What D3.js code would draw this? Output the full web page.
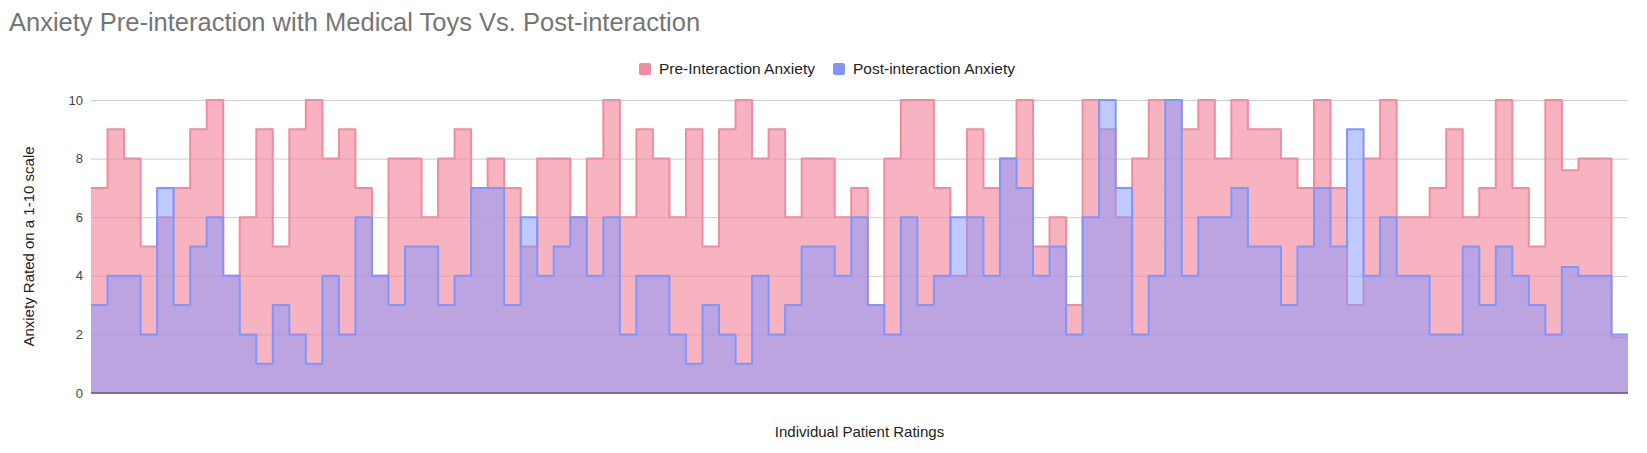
<!DOCTYPE html>
<html>
<head>
<meta charset="utf-8">
<script src="https://cdn.jsdelivr.net/npm/d3@7"></script>
<style>
    body { margin: 0; background: #fff; }
    text { font-family: Arial, "Liberation Sans", sans-serif; }
</style>
</head>
<body>
<div id="chart"></div>
<script>
// data, one value per patient
var pre_values = [7, 9, 8, 5, 6, 7, 9, 10, 4, 6, 9, 5, 9, 10, 8, 9, 7, 4, 8, 8,
    6, 8, 9, 7, 8, 7, 5, 8, 8, 6, 8, 10, 6, 9, 8, 6, 9, 5, 9, 10,
    8, 9, 6, 8, 8, 6, 7, 3, 8, 10, 10, 7, 4, 9, 7, 8, 10, 5, 6, 3,
    10, 9, 6, 8, 10, 10, 9, 10, 8, 10, 9, 9, 8, 7, 10, 7, 3, 8, 10, 6,
    6, 7, 9, 6, 7, 10, 7, 5, 10, 7.6, 8, 8, 1.9];
var post_values = [3, 4, 4, 2, 7, 3, 5, 6, 4, 2, 1, 3, 2, 1, 4, 2, 6, 4, 3, 5,
    5, 3, 4, 7, 7, 3, 6, 4, 5, 6, 4, 6, 2, 4, 4, 2, 1, 3, 2, 1,
    4, 2, 3, 5, 5, 4, 6, 3, 2, 6, 3, 4, 6, 6, 4, 8, 7, 4, 5, 2,
    6, 10, 7, 2, 4, 10, 4, 6, 6, 7, 5, 5, 3, 5, 7, 5, 9, 4, 6, 4,
    4, 2, 2, 5, 3, 5, 4, 3, 2, 4.3, 4, 4, 2];
var series_names = ["Pre-Interaction Anxiety", "Post-interaction Anxiety"];
var y_ticks = [0, 2, 4, 6, 8, 10];

var svgWidth = 1647;
var svgHeight = 453;
var margin = { top: 100, right: 19, bottom: 60, left: 91 };
var chart_width = svgWidth - margin.left - margin.right;
var chart_height = svgHeight - margin.top - margin.bottom;

var pink_line = "#f28b9e";
var blue_line = "#7f95ff";

var svg = d3.select("#chart")
    .append("svg")
    .attr("width", svgWidth)
    .attr("height", svgHeight);

var chartGroup = svg.append("g")
    .attr("transform", `translate(${margin.left}, ${margin.top})`);

// scales
var n = pre_values.length;
var xScale = d3.scaleLinear()
    .domain([0, n])
    .range([0, chart_width]);

var yScale = d3.scaleLinear()
    .domain([0, 10])
    .range([chart_height, 0]);

// gridlines + tick labels
var leftAxis = d3.axisLeft(yScale)
    .tickValues(y_ticks)
    .tickSize(-chart_width)
    .tickPadding(8);

var yAxis = chartGroup.append("g")
    .call(leftAxis);
yAxis.select(".domain").remove();
yAxis.selectAll(".tick line")
    .attr("stroke", "#cccccc")
    .attr("stroke-width", 1);
yAxis.selectAll(".tick text")
    .attr("fill", "#444")
    .attr("font-size", 13)
    .attr("font-family", "Arial, 'Liberation Sans', sans-serif");

// step series (repeat last value so the last step gets its width)
function stepData(values) {
    return values.concat([values[values.length - 1]]);
}

var area = d3.area()
    .x((d, i) => xScale(i))
    .y0(yScale(0))
    .y1(d => yScale(d))
    .curve(d3.curveStepAfter);

var line = d3.line()
    .x((d, i) => xScale(i))
    .y(d => yScale(d))
    .curve(d3.curveStepAfter);

chartGroup.append("path")
    .datum(stepData(pre_values))
    .attr("d", area)
    .attr("fill", pink_line)
    .attr("fill-opacity", 0.65);

chartGroup.append("path")
    .datum(stepData(pre_values))
    .attr("d", line)
    .attr("fill", "none")
    .attr("stroke", pink_line)
    .attr("stroke-width", 2)
    .attr("stroke-linejoin", "round");

chartGroup.append("path")
    .datum(stepData(post_values))
    .attr("d", area)
    .attr("fill", blue_line)
    .attr("fill-opacity", 0.5);

chartGroup.append("path")
    .datum(stepData(post_values))
    .attr("d", line)
    .attr("fill", "none")
    .attr("stroke", blue_line)
    .attr("stroke-width", 2)
    .attr("stroke-linejoin", "round");

// baseline
chartGroup.append("line")
    .attr("x1", 0)
    .attr("x2", chart_width)
    .attr("y1", yScale(0))
    .attr("y2", yScale(0))
    .attr("stroke", "#333")
    .attr("stroke-width", 1);

// title
svg.append("text")
    .attr("x", 9)
    .attr("y", 31)
    .attr("font-size", 25.5)
    .attr("fill", "#757575")
    .text("Anxiety Pre-interaction with Medical Toys Vs. Post-interaction");

// legend
var legend = svg.append("g")
    .attr("transform", "translate(639, 63)");
var legendX = [0, 194];
var legendColors = [pink_line, blue_line];
series_names.forEach(function(name, i) {
    legend.append("rect")
        .attr("x", legendX[i])
        .attr("y", 0)
        .attr("width", 12)
        .attr("height", 12)
        .attr("rx", 2)
        .attr("fill", legendColors[i]);
    legend.append("text")
        .attr("x", legendX[i] + 20)
        .attr("y", 11)
        .attr("font-size", 15.5)
        .attr("fill", "#222")
        .text(name);
});

// axis titles
chartGroup.append("text")
    .attr("transform", "rotate(-90)")
    .attr("x", -chart_height / 2)
    .attr("y", -57)
    .attr("text-anchor", "middle")
    .attr("font-size", 15)
    .attr("fill", "#222")
    .text("Anxiety Rated on a 1-10 scale");

chartGroup.append("text")
    .attr("x", chart_width / 2)
    .attr("y", chart_height + 44)
    .attr("text-anchor", "middle")
    .attr("font-size", 15)
    .attr("fill", "#222")
    .text("Individual Patient Ratings");
</script>
</body>
</html>
